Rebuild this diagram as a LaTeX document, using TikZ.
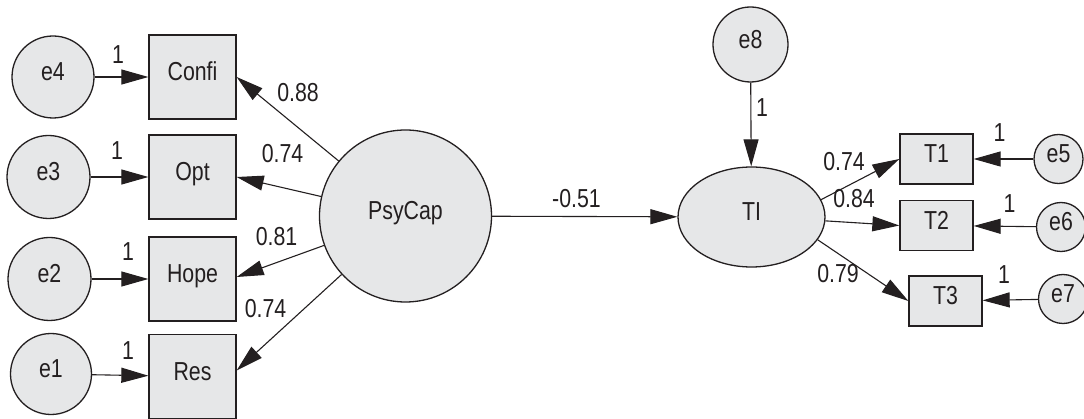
\documentclass[tikz,border=0pt]{standalone}
\usepackage{fontspec}
\setmainfont{Liberation Sans}[FakeStretch=0.82]
\usetikzlibrary{arrows.meta,shapes.geometric}
\definecolor{nodefill}{RGB}{230,231,232}
\definecolor{ink}{RGB}{35,31,32}
\tikzset{
  base/.style={draw=ink, fill=nodefill, line width=1.3pt, inner sep=0pt,
    text height=0.72em, text depth=0pt},
  errc/.style={base, circle},
  obsbox/.style={base, rectangle, minimum width=87pt, minimum height=84pt},
  tbox/.style={base, rectangle, minimum width=73pt, minimum height=50pt},
  latent/.style={base, circle, minimum size=172pt},
  latentell/.style={base, ellipse, minimum width=147pt, minimum height=100pt},
  path/.style={draw=ink, line width=1.1pt, -{Triangle[length=27pt,width=15pt]}},
  coef/.style={inner sep=0pt, text=ink, text height=0.72em, text depth=0pt}
}
\begin{document}
\begin{tikzpicture}[x=1pt, y=-1pt, font=\fontsize{26}{30}\selectfont, text=ink]
\useasboundingbox (0,0) rectangle (1084,419);

% measurement side of PsyCap
\node[errc, minimum size=82pt] (e4) at (53,77) {e4};
\node[errc, minimum size=83pt] (e3) at (48.5,177) {e3};
\node[errc, minimum size=83pt] (e2) at (49.5,279) {e2};
\node[errc, minimum size=81pt] (e1) at (51,374) {e1};

\node[obsbox] (confi) at (192.5,77) {Confi};
\node[obsbox] (opt) at (192.5,177) {Opt};
\node[obsbox] (hope) at (192.5,279) {Hope};
\node[obsbox] (res) at (192.5,376.5) {Res};

\node[latent] (ps) at (405.5,216) {PsyCap};

% TI and its indicators
\node[latentell] (ti) at (751.5,217) {TI};
\node[errc, minimum size=75pt] (e8) at (750.5,44.5) {e8};

\node[tbox] (t1) at (936.5,159) {T1};
\node[tbox] (t2) at (936.5,225.5) {T2};
\node[tbox] (t3) at (945.5,301) {T3};

\node[errc, minimum size=49pt] (e5) at (1058.5,159) {e5};
\node[errc, minimum size=49pt] (e6) at (1061,227) {e6};
\node[errc, minimum size=49pt] (e7) at (1063,299) {e7};

% error paths
\draw[path] (e4) -- (confi);
\draw[path] (e3) -- (opt);
\draw[path] (e2) -- (hope);
\draw[path] (e1) -- (res);
\draw[path] (e8) -- (ti);
\draw[path] (e5) -- (t1);
\draw[path] (e6) -- (t2);
\draw[path] (e7) -- (t3);

% loadings and structural path
\draw[path] (ps) -- (confi.east);
\draw[path] (ps) -- (opt.east);
\draw[path] (ps) -- ([yshift=2pt]hope.east);
\draw[path] (ps) -- ([yshift=6pt]res.east);
\draw[path] (ps) -- (ti);
\draw[path] (ti.14) -- (t1.west);
\draw[path] (ti.-3) -- (t2.west);
\draw[path] (ti.-19) -- (t3.west);

% coefficients
\node[coef] (l41) at (118,60) {1};
\node[coef] (l31) at (117,156) {1};
\node[coef] (l21) at (128,256.5) {1};
\node[coef] (l11) at (128,356) {1};
\node[coef] (lconfi) at (298,97.5) {0.88};
\node[coef] (lopt) at (282.5,159) {0.74};
\node[coef] (lhope) at (276.5,241.5) {0.81};
\node[coef] (lres) at (265.5,314) {0.74};
\node[coef] (lti) at (576.5,203.5) {-0.51};
\node[coef] (l81) at (762,112.5) {1};
\node[coef] (lt1) at (844,167) {0.74};
\node[coef] (lt2) at (854,203.5) {0.84};
\node[coef] (lt3) at (838,279) {0.79};
\node[coef] (l51) at (999.5,138) {1};
\node[coef] (l61) at (1009.5,208.5) {1};
\node[coef] (l71) at (1004,280) {1};
\end{tikzpicture}
\end{document}
